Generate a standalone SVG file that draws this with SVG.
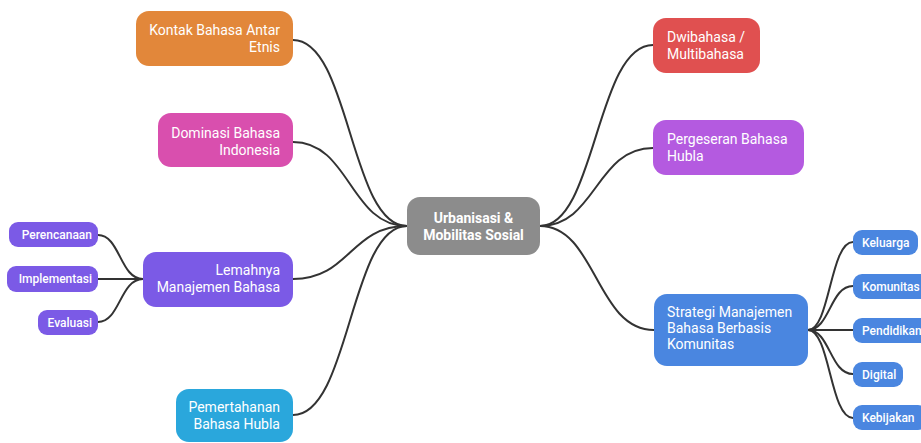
<svg xmlns="http://www.w3.org/2000/svg" width="921" height="443" viewBox="0 0 921 443">
<style>
.t{font-family:Roboto,"Liberation Sans",sans-serif;fill:#fff;font-size:14px}
.s{font-family:Roboto,"Liberation Sans",sans-serif;fill:#fff;font-size:12px;font-weight:500}
.b{font-weight:bold}
.c{fill:none;stroke:#333;stroke-width:2}
</style>
<rect width="921" height="443" fill="#fff"/>
<g id="connectors" class="c">
<path d="M407,226 C350,226 350,40 293,40"/>
<path d="M407,226 C350,226 350,142 293,142"/>
<path d="M407,226 C350,226 350,279 293,279"/>
<path d="M407,226 C350,226 350,415 293,415"/>
<path d="M540,226 C596,226 596,45 653,45"/>
<path d="M540,226 C596,226 596,148 653,148"/>
<path d="M540,226 C596,226 596,330 654,330"/>
<path d="M143,279 C120,279 120,235 98,235"/>
<path d="M143,279 C120,279 120,279 98,279"/>
<path d="M143,279 C120,279 120,322 98,322"/>
<path d="M808,330 C830,330 830,242 853,242"/>
<path d="M808,330 C830,330 830,286 853,286"/>
<path d="M808,330 C830,330 830,330 853,330"/>
<path d="M808,330 C830,330 830,374 853,374"/>
<path d="M808,330 C830,330 830,418 853,418"/>
</g>
<g id="center">
<rect x="407" y="197" width="133" height="58" rx="13" fill="#8c8c8c"/>
<text class="t b" x="473.5" y="223" text-anchor="middle">Urbanisasi &amp;</text>
<text class="t b" x="473.5" y="240" text-anchor="middle">Mobilitas Sosial</text>
</g>
<g id="kontak">
<rect x="136" y="11" width="157" height="55" rx="13" fill="#e2873a"/>
<text class="t" x="280" y="35" text-anchor="end">Kontak Bahasa Antar</text>
<text class="t" x="280" y="52" text-anchor="end">Etnis</text>
</g>
<g id="dominasi">
<rect x="158" y="113" width="135" height="54" rx="13" fill="#d94fae"/>
<text class="t" x="280" y="138" text-anchor="end">Dominasi Bahasa</text>
<text class="t" x="280" y="155" text-anchor="end">Indonesia</text>
</g>
<g id="lemahnya">
<rect x="143" y="252" width="150" height="55" rx="13" fill="#7b5ae6"/>
<text class="t" x="280" y="275" text-anchor="end">Lemahnya</text>
<text class="t" x="280" y="292" text-anchor="end">Manajemen Bahasa</text>
</g>
<g id="perencanaan">
<rect x="9" y="222" width="89" height="25" rx="9" fill="#7b5ae6"/>
<text class="s" x="92" y="239" text-anchor="end">Perencanaan</text>
</g>
<g id="implementasi">
<rect x="7" y="266" width="91" height="26" rx="9" fill="#7b5ae6"/>
<text class="s" x="92" y="283" text-anchor="end">Implementasi</text>
</g>
<g id="evaluasi">
<rect x="38" y="310" width="60" height="25" rx="9" fill="#7b5ae6"/>
<text class="s" x="92" y="327" text-anchor="end">Evaluasi</text>
</g>
<g id="pemertahanan">
<rect x="176" y="389" width="117" height="53" rx="13" fill="#2aa7dc"/>
<text class="t" x="280" y="412" text-anchor="end">Pemertahanan</text>
<text class="t" x="280" y="429" text-anchor="end">Bahasa Hubla</text>
</g>
<g id="dwibahasa">
<rect x="653" y="18" width="107" height="55" rx="13" fill="#e05050"/>
<text class="t" x="667" y="42">Dwibahasa /</text>
<text class="t" x="667" y="59">Multibahasa</text>
</g>
<g id="pergeseran">
<rect x="653" y="120" width="151" height="55" rx="13" fill="#b45ae0"/>
<text class="t" x="667" y="144">Pergeseran Bahasa</text>
<text class="t" x="667" y="161">Hubla</text>
</g>
<g id="strategi">
<rect x="654" y="294" width="154" height="72" rx="13" fill="#4a86e0"/>
<text class="t" x="667" y="317">Strategi Manajemen</text>
<text class="t" x="667" y="333">Bahasa Berbasis</text>
<text class="t" x="667" y="349">Komunitas</text>
</g>
<g id="keluarga">
<rect x="853" y="230" width="65" height="25" rx="9" fill="#4a86e0"/>
<text class="s" x="862" y="247">Keluarga</text>
</g>
<g id="komunitas">
<rect x="853" y="274" width="76" height="25" rx="9" fill="#4a86e0"/>
<text class="s" x="862" y="291">Komunitas</text>
</g>
<g id="pendidikan">
<rect x="853" y="318" width="80" height="25" rx="9" fill="#4a86e0"/>
<text class="s" x="862" y="335">Pendidikan</text>
</g>
<g id="digital">
<rect x="853" y="362" width="50" height="25" rx="9" fill="#4a86e0"/>
<text class="s" x="862" y="379">Digital</text>
</g>
<g id="kebijakan">
<rect x="853" y="405" width="74" height="25" rx="9" fill="#4a86e0"/>
<text class="s" x="862" y="422">Kebijakan</text>
</g>
</svg>
